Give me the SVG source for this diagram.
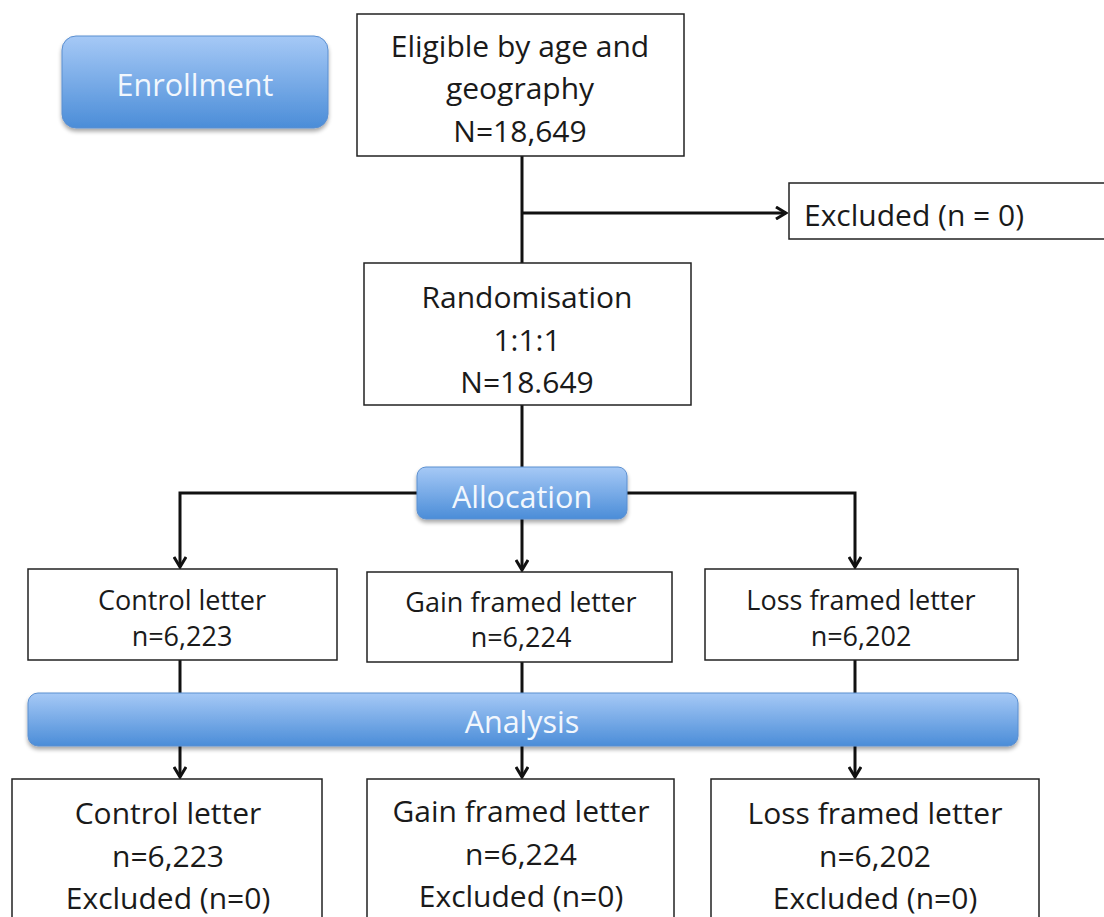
<svg xmlns="http://www.w3.org/2000/svg" width="1104" height="917" viewBox="0 0 1104 917">
<style>
.box{fill:#fff;stroke:#222;stroke-width:1.5}
.blue{fill:url(#bg);stroke:#5b8fd0;stroke-width:1;filter:url(#sh)}
.t{font-family:"Open Sans","Liberation Sans",Arial,sans-serif;fill:#1a1a1a;text-anchor:middle}
.big{font-size:30px}
.mid{font-size:27px}
.w{font-family:"Open Sans","Liberation Sans",Arial,sans-serif;fill:#f2f7fd;text-anchor:middle;font-size:30.5px}
.c{fill:none;stroke:#111;stroke-width:3}
</style>
<defs>
<linearGradient id="bg" x1="0" y1="0" x2="0" y2="1">
<stop offset="0" stop-color="#a6c9f6"/>
<stop offset="1" stop-color="#4b8dd8"/>
</linearGradient>
<filter id="sh" x="-10%" y="-20%" width="120%" height="150%">
<feGaussianBlur in="SourceAlpha" stdDeviation="2"/>
<feOffset dy="3"/>
<feComponentTransfer><feFuncA type="linear" slope="0.35"/></feComponentTransfer>
<feMerge><feMergeNode/><feMergeNode in="SourceGraphic"/></feMerge>
</filter>
<marker id="ah" markerWidth="14" markerHeight="14" refX="12" refY="7" orient="auto" markerUnits="userSpaceOnUse">
<path d="M2,1 L12,7 L2,13" fill="none" stroke="#111" stroke-width="3"/>
</marker>
</defs>
<g id="connectors">
<line class="c" x1="522" y1="156" x2="522" y2="263"/>
<line class="c" x1="522" y1="213" x2="786" y2="213" marker-end="url(#ah)"/>
<line class="c" x1="522" y1="405" x2="522" y2="468"/>
<polyline class="c" points="417,493 180,493 180,567" marker-end="url(#ah)"/>
<polyline class="c" points="627,493 855,493 855,567" marker-end="url(#ah)"/>
<line class="c" x1="522" y1="519" x2="522" y2="570" marker-end="url(#ah)"/>
<line class="c" x1="180" y1="660" x2="180" y2="693"/>
<line class="c" x1="522" y1="662" x2="522" y2="693"/>
<line class="c" x1="855" y1="660" x2="855" y2="693"/>
<line class="c" x1="180" y1="746" x2="180" y2="777" marker-end="url(#ah)"/>
<line class="c" x1="522" y1="746" x2="522" y2="777" marker-end="url(#ah)"/>
<line class="c" x1="855" y1="746" x2="855" y2="777" marker-end="url(#ah)"/>
</g>
<g id="enrollment">
<rect class="blue" x="62" y="36" width="266" height="92" rx="14"/>
<text class="w" x="195" y="96">Enrollment</text>
</g>
<g id="eligible">
<rect class="box" x="357" y="14" width="327" height="142"/>
<text class="t big" x="520" y="57">Eligible by age and</text>
<text class="t big" x="520" y="99">geography</text>
<text class="t big" x="520" y="142">N=18,649</text>
</g>
<g id="excluded">
<rect class="box" x="789" y="183" width="330" height="56"/>
<text class="t big" x="804" y="226" style="text-anchor:start">Excluded (n = 0)</text>
</g>
<g id="randomisation">
<rect class="box" x="364" y="263" width="327" height="142"/>
<text class="t big" x="527" y="308">Randomisation</text>
<text class="t big" x="527" y="351">1:1:1</text>
<text class="t big" x="527" y="393">N=18.649</text>
</g>
<g id="allocation">
<rect class="blue" x="417" y="467" width="210" height="52" rx="9"/>
<text class="w" x="522" y="508">Allocation</text>
</g>
<g id="control1">
<rect class="box" x="28" y="569" width="309" height="91"/>
<text class="t mid" x="182" y="610">Control letter</text>
<text class="t mid" x="182" y="646">n=6,223</text>
</g>
<g id="gain1">
<rect class="box" x="367" y="572" width="305" height="90"/>
<text class="t mid" x="521" y="612">Gain framed letter</text>
<text class="t mid" x="521" y="647">n=6,224</text>
</g>
<g id="loss1">
<rect class="box" x="705" y="569" width="313" height="91"/>
<text class="t mid" x="861" y="610">Loss framed letter</text>
<text class="t mid" x="861" y="646">n=6,202</text>
</g>
<g id="analysis">
<rect class="blue" x="28" y="693" width="990" height="53" rx="10"/>
<text class="w" x="522" y="733">Analysis</text>
</g>
<g id="control2">
<rect class="box" x="12" y="779" width="310" height="150"/>
<text class="t big" x="168" y="824">Control letter</text>
<text class="t big" x="168" y="867">n=6,223</text>
<text class="t big" x="168" y="909">Excluded (n=0)</text>
</g>
<g id="gain2">
<rect class="box" x="367" y="779" width="307" height="150"/>
<text class="t big" x="521" y="822">Gain framed letter</text>
<text class="t big" x="521" y="865">n=6,224</text>
<text class="t big" x="521" y="907">Excluded (n=0)</text>
</g>
<g id="loss2">
<rect class="box" x="711" y="779" width="328" height="150"/>
<text class="t big" x="875" y="824">Loss framed letter</text>
<text class="t big" x="875" y="867">n=6,202</text>
<text class="t big" x="875" y="909">Excluded (n=0)</text>
</g>
</svg>
